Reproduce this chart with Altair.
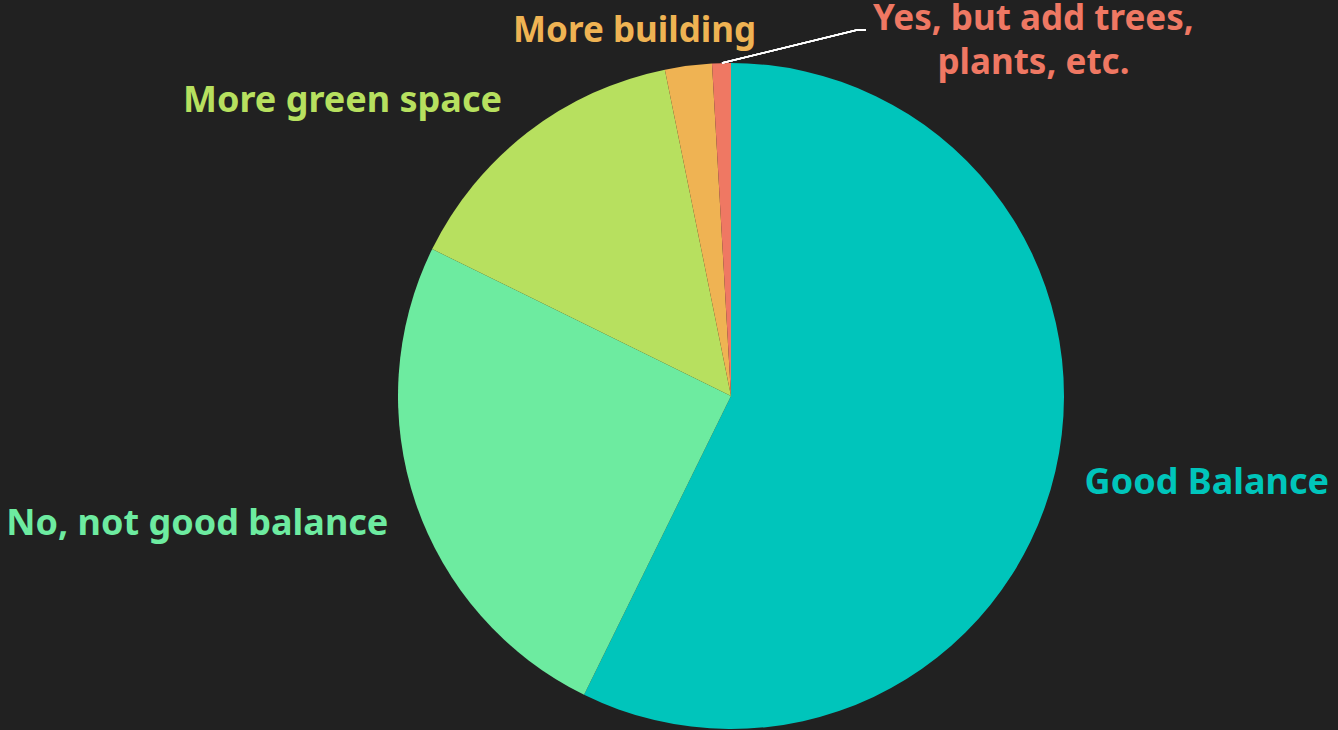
import math
import altair as alt
import pandas as pd

# ---- data ----
categories = [
    "Good Balance",
    "No, not good balance",
    "More green space",
    "More building",
    "Yes, but add trees, plants, etc.",
]
labels = [
    "Good Balance",
    "No, not good balance",
    "More green space",
    "More building",
    "Yes, but add trees,\nplants, etc.",
]
counts = [126, 55, 32, 5, 2]
colors = ["#00C5BB", "#6DEBA0", "#B7E05F", "#EFB353", "#EF7863"]

df = pd.DataFrame({
    "category": categories,
    "label": labels,
    "value": counts,
    "order": list(range(len(categories))),
})

BG = "#212121"
FONT = "Noto Sans"
CX, CY = 731, 396   # pie centre inside the plot area
R = 333

theta_scale = alt.Scale(domain=[0, 1], range=[0, 2 * math.pi])
color_scale = alt.Scale(domain=categories, range=colors)

base = alt.Chart(df).transform_window(
    cum="sum(value)", sort=[alt.SortField("order")], frame=[None, 0]
).transform_joinaggregate(
    total="sum(value)"
).transform_calculate(
    start="(datum.cum - datum.value) / datum.total",
    end="datum.cum / datum.total",
    mid="(datum.cum - datum.value / 2) / datum.total",
)

pie = base.mark_arc(outerRadius=R).encode(
    x=alt.value(CX),
    y=alt.value(CY),
    theta=alt.Theta("start:Q", scale=theta_scale),
    theta2="end:Q",
    color=alt.Color("category:N", scale=color_scale, legend=None),
)

# label placement: (category, radius, align, dx, dy, fontSize)
placements = [
    ("Good Balance", 363, "left", 0, 16, 36),
    ("No, not good balance", 362, "right", 0, 22, 36),
    ("More green space", 375, "right", 0, 13, 36),
    ("More building", 370, "center", -49, 13, 35),
    ("Yes, but add trees, plants, etc.", 370, "center", 313, 4, 35),
]

layers = [pie]
for cat, rad, align, dx, dy, fs in placements:
    layers.append(
        base.transform_filter(alt.datum.category == cat)
        .mark_text(
            font=FONT, fontSize=fs, fontWeight="bold", align=align,
            baseline="alphabetic", dx=dx, dy=dy, lineBreak="\n", lineHeight=44,
        )
        .encode(
            x=alt.value(CX),
            y=alt.value(CY),
            theta=alt.Theta("mid:Q", scale=theta_scale),
            radius=alt.value(rad),
            text="label:N",
            color=alt.Color("category:N", scale=color_scale, legend=None),
        )
    )

# leader line for the smallest slice
leader1 = alt.Chart(df).mark_rule(color="white", strokeWidth=1.5).encode(
    x=alt.value(722), y=alt.value(63), x2=alt.value(857), y2=alt.value(30)
)
leader2 = alt.Chart(df).mark_rule(color="white", strokeWidth=1.5).encode(
    x=alt.value(857), y=alt.value(30), x2=alt.value(866), y2=alt.value(30)
)
layers += [leader1, leader2]

chart = alt.layer(*layers).properties(
    width=1338, height=730, padding=0, autosize=alt.AutoSizeParams(type="none"),
    background=BG,
).configure_view(stroke=None)

kwargs = {}
try:
    import altair.utils.html as _h
    _orig = _h.TEMPLATES["standard"]

    class _DarkTemplate:
        def render(self, *a, **kw):
            return _orig.render(*a, **kw).replace(
                "<body>", '<body style="background:%s;margin:0;overflow:hidden;">' % BG, 1
            )

    kwargs["template"] = _DarkTemplate()
except Exception:
    kwargs = {}

try:
    chart.save("out.html", embed_options={"renderer": "svg", "actions": False}, **kwargs)
except Exception:
    chart.save("out.html", embed_options={"renderer": "svg", "actions": False})
